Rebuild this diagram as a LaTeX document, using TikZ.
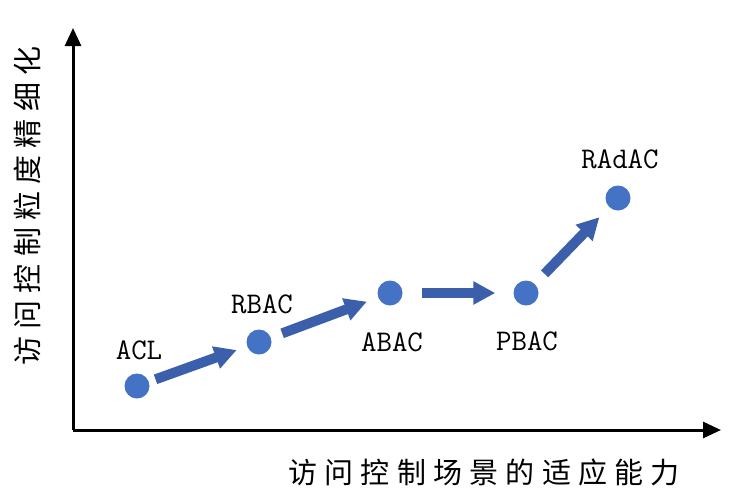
\documentclass[tikz,border=0pt]{standalone}
\usepackage{fontspec}
\newfontfamily\cjk[LetterSpace=25]{Noto Sans CJK SC}
\usetikzlibrary{arrows.meta}
\definecolor{dotblue}{RGB}{68,114,196}
\definecolor{arrowblue}{RGB}{59,95,170}

\begin{document}
\begin{tikzpicture}[x=1pt, y=-1pt,
  dot/.style={circle, fill=dotblue, minimum size=25pt, inner sep=0pt},
  lbl/.style={font=\fontsize{30}{30}\selectfont\ttfamily, inner sep=0pt},
  axislab/.style={font=\fontsize{29}{29}\selectfont\cjk, inner sep=0pt},
  axis/.style={line width=3pt, -{Triangle[length=18pt,width=16pt]}},
  move/.style={arrowblue, line width=10pt, -{Triangle[length=22pt,width=22pt]},
    shorten <=12pt, shorten >=12pt}]
  \useasboundingbox (0,0) rectangle (750,496);

  % axes
  \coordinate (o) at (73,430);
  \coordinate (ytip) at (73,28);
  \coordinate (xtip) at (721,430);
  \draw[axis] (o) -- (ytip);
  \draw[axis] (o) -- (xtip);
  \node[axislab, rotate=90] (ylab) at (27,206) {访问控制粒度精细化};
  \node[axislab] (xlab) at (484,472) {访问控制场景的适应能力};

  % models
  \node[dot] (acl) at (137,386) {};
  \node[dot] (rbac) at (259,342) {};
  \node[dot] (abac) at (390,293) {};
  \node[dot] (pbac) at (526,293) {};
  \node[dot] (radac) at (618,198) {};
  \node[lbl] at (139,350) {ACL};
  \node[lbl] at (262,304) {RBAC};
  \node[lbl] at (392,342) {ABAC};
  \node[lbl] at (527,341) {PBAC};
  \node[lbl] at (620,159) {RAdAC};

  \draw[move, shorten <=7pt, shorten >=11pt] (acl) -- (rbac);
  \draw[move] (rbac) -- (abac);
  \draw[move, shorten <=19pt, shorten >=18pt] (abac) -- (pbac);
  \draw[move, shorten <=14pt, shorten >=14pt] (pbac) -- (radac);
\end{tikzpicture}
\end{document}
